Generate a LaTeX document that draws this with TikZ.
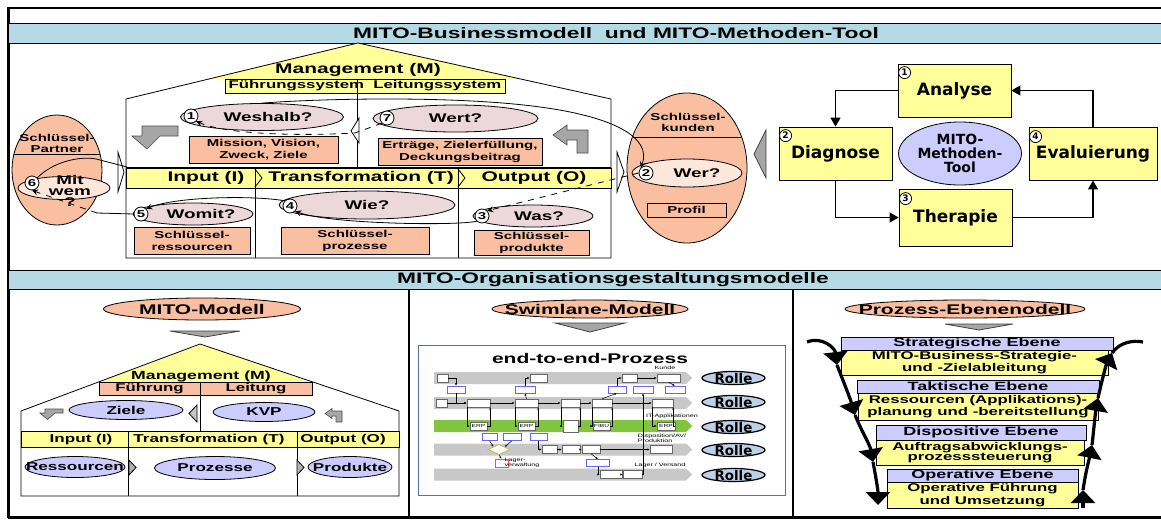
\documentclass[tikz,border=0pt]{standalone}
\usepackage{fontspec}
\setmainfont{Liberation Sans}[FakeStretch=1.5]
\newfontfamily\cyclefont{DejaVu Sans}
\usetikzlibrary{arrows.meta,shapes.geometric}
\definecolor{barblue}{RGB}{180,218,230}
\definecolor{lightyel}{RGB}{255,255,153}
\definecolor{salmon}{RGB}{250,191,160}
\definecolor{rosy}{RGB}{236,216,218}
\definecolor{peach}{RGB}{252,232,218}
\definecolor{lavender}{RGB}{204,204,255}
\definecolor{rolleblue}{RGB}{190,208,230}
\definecolor{lanegray}{RGB}{200,200,200}
\definecolor{lanegreen}{RGB}{128,196,64}
\definecolor{shotblue}{RGB}{84,114,164}
\newcommand\fsz[2]{\fontsize{#1}{#2}\selectfont\bfseries}

\tikzset{
  titlebar/.style={draw, fill=barblue, anchor=north west, inner sep=0pt},
  titletext/.style={font=\fsz{7.6}{9}},
  yelbar/.style={draw, fill=lightyel, inner sep=0pt},
  salbox/.style={draw, fill=salmon, align=center, inner sep=0pt, font=\fsz{5}{6}},
  qell/.style={draw, ellipse, fill=rosy, inner sep=0pt},
  qlbl/.style={font=\fsz{6.3}{5.6}, align=center},
  numc/.style={draw, circle, fill=white, inner sep=0pt, minimum size=7pt, font=\fsz{5}{5}},
  iotext/.style={font=\fsz{7}{8}},
  grayarrow/.style={draw=black!70, fill=gray!70, line width=0.3pt},
  cbox/.style={draw, fill=lightyel, inner sep=0pt, minimum width=56.5pt, minimum height=26.5pt, font=\cyclefont\bfseries\fontsize{8.5}{10}\selectfont},
  cnum/.style={draw, circle, fill=white, inner sep=0pt, minimum size=6pt, font=\cyclefont\bfseries\fontsize{4.5}{5}\selectfont},
  carrow/.style={-{Triangle[width=5pt,length=4.5pt]}, line width=0.6pt},
  seqarrow/.style={-{Stealth[width=3pt,length=3pt]}, line width=0.4pt},
  modell/.style={draw, ellipse, fill=salmon, inner sep=0pt, minimum height=9pt},
  mlbl/.style={font=\fsz{7}{8}},
  lavell/.style={draw, ellipse, fill=lavender, inner sep=0pt, minimum height=10.5pt},
  llbl/.style={font=\fsz{5.7}{6}},
  wedge/.style={draw=gray!50!black, fill=gray!70},
  swbox/.style={draw=black!60, fill=white, line width=0.2pt, inner sep=0pt, minimum height=4pt, font=\fontsize{2.2}{2.4}\selectfont},
  swdoc/.style={swbox, draw=blue!60, minimum height=3.5pt},
  swline/.style={line width=0.25pt, -{Latex[length=1.2pt,width=1pt]}},
  swlbl/.style={font=\fontsize{2.4}{2.6}\selectfont, align=left},
  rolle/.style={draw, ellipse, fill=rolleblue, inner sep=0pt, minimum width=31.5pt, minimum height=6.5pt, line width=0.6pt},
  rlbl/.style={font=\cyclefont\bfseries\fontsize{6.7}{7}\selectfont},
  levelhead/.style={draw, fill=lavender, inner sep=0pt, minimum height=6.5pt, font=\fsz{6}{6}},
  levelbody/.style={draw, fill=lightyel, inner sep=0pt, align=center, font=\fsz{5.6}{5.2}},
  bigarr/.style={line width=1.6pt, -{Triangle[width=12pt,length=6.5pt]}}
}

\begin{document}
\begin{tikzpicture}[x=0.5pt, y=-0.5pt]
\useasboundingbox (0,0) rectangle (1161,520);

% frame
\draw[line width=1pt] (8,7.5) -- (1161,7.5);
\draw[line width=1.5pt] (8.5,7) -- (8.5,518);
\draw[line width=1.2pt] (8,517.5) -- (1161,517.5);

% title bars
\node[titlebar, minimum width=576.5pt, minimum height=10pt] (bar1) at (8,23) {};
\node[titletext] (title1) at (616,33) {MITO-Businessmodell\ \ und MITO-Methoden-Tool};
\node[titlebar, minimum width=576.5pt, minimum height=9.5pt] (bar2) at (8,270) {};
\node[titletext] (title2) at (613,280) {MITO-Organisationsgestaltungsmodelle};
\draw[line width=0.6pt] (409,289) -- (409,517);
\draw[line width=0.6pt] (793,289) -- (793,517);

% house: roof and walls
\fill[lightyel] (358,43) -- (208,79) -- (521,79) -- cycle;
\draw (126,258) -- (126,99) -- (358,43) -- (611,99) -- (611,258) -- cycle;
\node[iotext] (mgmt) at (358,70) {Management (M)};
\node[yelbar, minimum width=140pt, minimum height=7pt, font=\fsz{5.6}{6}] (fsys) at (365,86) {Führungssystem\ \ Leitungssystem};
\draw (357,79) -- (357,167);

% management row
\node[qell, minimum width=81.5pt, minimum height=13.5pt, label={[qlbl]center:\hspace*{6pt}Weshalb?}] (w1) at (262,117) {};
\node[numc] (c1) at (191,116) {1};
\node[qell, minimum width=82.5pt, minimum height=13.5pt, label={[qlbl]center:Wert?}] (w7) at (455.5,118.5) {};
\node[numc] (c7) at (387,118) {7};
\node[salbox, minimum width=74.5pt, minimum height=13.5pt] (mis) at (263.5,149.5) {Mission, Vision,\\Zweck, Ziele};
\node[salbox, minimum width=82pt, minimum height=13.5pt] (ert) at (460,151.5) {Erträge, Zielerfüllung,\\Deckungsbeitrag};
\draw[grayarrow] (178,126) -- (142,126) -- (142,136) -- (132,136) -- (147,149) -- (160,136) -- (178,136) -- cycle;
\draw[grayarrow] (553,135) -- (567,125) -- (567,130) -- (588,130) -- (588,153) -- (577,153) -- (577,140) -- (567,140) -- (567,145) -- cycle;
\draw[fill=white] (359,118) -- (351,131) -- (359,143) -- cycle;

% input / transformation / output
\draw (126,167) -- (611,167);
\node[yelbar, anchor=north west, minimum width=242.5pt, minimum height=10pt] (iobar) at (126,168) {};
\draw (255,168) -- (255,258);
\draw (458,168) -- (458,258);
\draw (255,169) -- (262,178) -- (255,187);
\draw (458,169) -- (465,178) -- (458,187);
\node[iotext] (inp) at (206,178) {Input (I)};
\node[iotext] (trf) at (361,178) {Transformation (T)};
\node[iotext] (outp) at (534,178) {Output (O)};

\node[qell, minimum width=60pt, minimum height=11pt, label={[qlbl]center:\hspace*{8pt}Womit?}] (w5) at (193,214) {};
\node[numc] (c5) at (141,214) {5};
\node[qell, minimum width=88pt, minimum height=14pt, label={[qlbl]center:Wie?}] (w4) at (367,205) {};
\node[numc] (c4) at (290,206) {4};
\node[qell, minimum width=60pt, minimum height=11pt, label={[qlbl]center:\hspace*{6pt}Was?}] (w3) at (533,216) {};
\node[numc] (c3) at (482,216) {3};
\node[salbox, minimum width=58pt, minimum height=13.5pt] (res) at (192,240.5) {Schlüssel-\\ressourcen};
\node[salbox, minimum width=74pt, minimum height=13.5pt] (pro) at (355,240.5) {Schlüssel-\\prozesse};
\node[salbox, minimum width=57.5pt, minimum height=12.5pt] (prd) at (531.5,242.5) {Schlüssel-\\produkte};

% key partners
\node[draw, ellipse, fill=salmon, minimum width=45pt, minimum height=55pt, inner sep=0pt] (kp) at (57,170) {};
\draw (14,154) -- (100,154);
\node[font=\fsz{5}{5.5}, align=center] (kpt) at (57,143.5) {Schlüssel-\\Partner};
\node[qell, fill=peach, minimum width=46pt, minimum height=11.5pt] (m6) at (64,188) {};
\node[qlbl] (m6t) at (70,191) {Mit\\wem\\?};
\node[numc] (c6) at (32,183) {6};
\draw[fill=white] (118,152) -- (124,172) -- (118,192) -- cycle;

% key customers
\node[draw, ellipse, fill=salmon, minimum width=60pt, minimum height=75pt, inner sep=0pt] (kk) at (687,168) {};
\draw (633,137) -- (741,137);
\node[font=\fsz{5}{5.5}, align=center] (kkt) at (688,122.5) {Schlüssel-\\kunden};
\node[qell, fill=peach, minimum width=55pt, minimum height=14pt, label={[qlbl]center:\hspace*{10pt}Wer?}] (m2) at (687,173) {};
\node[numc] (c2) at (646,173) {2};
\node[salbox, minimum width=39.5pt, minimum height=7pt] (prof) at (686.5,210) {Profil};
\draw[fill=white] (617,152) -- (624,172) -- (617,192) -- cycle;

% sequence 1 to 7
\draw[seqarrow] (w1.north) .. controls (330,98) and (460,96) .. (540,107) .. controls (615,117) and (652,138) .. (c2.north west);
\draw[seqarrow, dashed] (c2.west) -- (c3.north east);
\draw[seqarrow] (c3.south west) .. controls (455,226) and (330,224) .. (c4.south east);
\draw[seqarrow] (c4.north west) .. controls (250,195) and (175,197) .. (c5.north east);
\coordinate (p56) at (97,213);
\draw (c5.west) -- (p56);
\draw[seqarrow, dashed] (p56) -- (c6.south);
\coordinate (p67) at (127,167);
\draw (c6.north east) .. controls (55,160) and (85,155) .. (100,160) -- (p67);
\coordinate (pmid) at (355,133);
\draw[seqarrow, dashed] (c7.south west) .. controls (368,128) .. (pmid) .. controls (280,137) and (220,132) .. (c1.south east);

% methoden-tool cycle
\draw[wedge] (754,154) -- (766,130) -- (766,178) -- cycle;
\node[cbox] (ana) at (954.5,90.5) {Analyse};
\node[cbox] (dia) at (835.5,153.5) {Diagnose};
\node[cbox, minimum height=28.5pt] (the) at (955.5,217.5) {Therapie};
\node[cbox, minimum width=64pt] (eva) at (1093,153.5) {Evaluierung};
\node[draw, ellipse, fill=lavender, inner sep=0pt, minimum width=61.5pt, minimum height=31.5pt, align=center, font=\cyclefont\bfseries\fontsize{7}{7}\selectfont] (tool) at (960,153.5) {MITO-\\Methoden-\\Tool};
\node[cnum] (n1) at ([shift={(7,9)}]ana.north west) {1};
\node[cnum] (n2) at ([shift={(7,9)}]dia.north west) {2};
\node[cnum] (n3) at ([shift={(7,10)}]the.north west) {3};
\node[cnum] (n4) at ([shift={(7,10)}]eva.north west) {4};
\draw[carrow] (ana.west) -| (dia.north);
\draw[carrow] (dia.south) |- (the.west);
\draw[carrow] (the.east) -| (eva.south);
\draw[carrow] (eva.north) |- (ana.east);

% mito-modell
\node[modell, minimum width=98.5pt, minimum height=11pt, label={[mlbl]center:MITO-Modell}] (mm) at (202,309) {};
\draw[wedge] (170,331) -- (240,331) -- (205,337) -- cycle;
\fill[lightyel] (200,344) -- (98,382) -- (313,382) -- cycle;
\draw (21,496) -- (21,411) -- (200,344) -- (399,411) -- (399,496) -- cycle;
\node[font=\fsz{5.9}{6}] (mgmt2) at (201,376) {Management (M)};
\node[salbox, minimum width=50.5pt, minimum height=6.5pt, font=\fsz{5.6}{6}] (fu2) at (149.5,388.5) {Führung};
\node[salbox, minimum width=56pt, minimum height=6.5pt, font=\fsz{5.6}{6}] (le2) at (256,388.5) {Leitung};
\draw (200,395) -- (200,431);
\node[lavell, minimum width=57pt, minimum height=9.5pt, label={[llbl]center:Ziele}] (zl) at (126,410) {};
\node[lavell, minimum width=51pt, minimum height=9.5pt, label={[llbl]center:KVP}] (kvp) at (264,412) {};
\draw[grayarrow] (63,409) -- (45,409) -- (45,413) -- (40,413) -- (47.5,419.5) -- (55,413) -- (63,413) -- cycle;
\draw[grayarrow] (325,413.5) -- (332,408.5) -- (332,411) -- (342,411) -- (342,422) -- (336,422) -- (336,416) -- (332,416) -- (332,418.5) -- cycle;
\draw[fill=gray!45] (197,405) -- (189,413.5) -- (197,422) -- cycle;
\node[yelbar, anchor=north west, minimum width=189pt, minimum height=8pt] (iobar2) at (21,431) {};
\draw (128,431) -- (128,496);
\draw (297,431) -- (297,496);
\node[llbl] (inp2) at (81,440) {Input (I)};
\node[llbl] (trf2) at (209,440) {Transformation (T)};
\node[llbl] (outp2) at (343,440) {Output (O)};
\node[lavell, minimum width=50pt, label={[llbl]center:Ressourcen}] (res2) at (75,467) {};
\node[lavell, minimum width=60.5pt, minimum height=11.5pt, label={[llbl]center:Prozesse}] (proz2) at (215,468) {};
\node[lavell, minimum width=42pt, label={[llbl]center:Produkte}] (prod2) at (350,467) {};
\draw[fill=gray!60] (129,460) -- (136,467.5) -- (129,475) -- cycle;
\draw[fill=gray!60] (297,460) -- (304,467.5) -- (297,475) -- cycle;

% swimlane-modell
\node[modell, minimum width=98pt, label={[mlbl]center:Swimlane-Modell}] (sm) at (590,309) {};
\draw[wedge] (555,323) -- (625,323) -- (590,332) -- cycle;
\node[draw=shotblue, line width=0.6pt, anchor=north west, minimum width=183.5pt, minimum height=75pt] (shot) at (418,345) {};
\node[font=\fsz{7}{8}] (e2e) at (590,358) {end-to-end-Prozess};
\foreach \y/\c in {378/lanegray, 403/lanegray, 426/lanegreen, 449.5/lanegray, 474.5/lanegray}
  \fill[\c] (434,\y-6) -- (686,\y-6) -- (692,\y) -- (686,\y+6) -- (434,\y+6) -- cycle;
% lane boxes
\node[swbox, minimum width=5.5pt] (k1) at (442.5,378) {};
\node[swbox, minimum width=8.5pt] (k2) at (538.5,378) {};
\node[swbox, minimum width=7.5pt] (k3) at (629.5,378) {};
\node[swbox, minimum width=11.5pt] (k4) at (668.5,378) {};
\node[swdoc, minimum width=9pt] (d1) at (456,389.5) {};
\node[swdoc, minimum width=10pt] (d2) at (525,389.5) {};
\node[swdoc, minimum width=9pt] (d3) at (617,389.5) {};
\node[swdoc, minimum width=10pt] (d4) at (643,389.5) {};
\node[swdoc, minimum width=10pt] (d5) at (675,389.5) {};
\node[swbox, minimum width=5.5pt] (a1) at (441.5,403) {};
\node[swbox, minimum width=11.5pt] (a2) at (478.5,403) {};
\node[swbox, minimum width=11.5pt] (a3) at (526.5,403) {};
\node[swbox, minimum width=9.5pt] (a4) at (570.5,403) {};
\node[swbox, minimum width=10pt] (a5) at (602,403) {};
\node[swbox, minimum width=10.5pt] (a6) at (662.5,403) {};
\node[swbox, minimum width=8.5pt] (e1) at (478.5,426) {ERP};
\node[swbox, minimum width=8.5pt] (e2) at (526.5,426) {ERP};
\node[swbox, minimum width=7.5pt, minimum height=6pt] (e3) at (570.5,426) {};
\node[swbox, minimum width=8.5pt] (e4) at (601.5,426) {FIBU};
\node[swbox, minimum width=9pt] (e5) at (666,426) {ERP};
\node[swdoc, minimum width=7.5pt] (d6) at (489.5,437) {};
\node[swdoc, minimum width=9pt] (d7) at (512,437) {};
\node[swdoc, minimum width=8.5pt] (d8) at (538.5,437) {};
\node[draw=yellow!70!black, fill=white, diamond, inner sep=0pt, minimum width=11pt, minimum height=5pt, line width=0.3pt] (q1) at (499,449.5) {};
\node[swbox, minimum width=7.5pt] (b1) at (549.5,449.5) {};
\node[swbox, minimum width=9pt] (b2) at (571,449.5) {};
\node[swbox, minimum width=9pt] (b3) at (591,449.5) {};
\node[swbox, minimum width=11pt] (b4) at (661,449.5) {};
\node[swbox, draw=red!70, minimum width=6.5pt] (r1) at (501.5,463) {};
\node[swdoc, minimum width=11.5pt] (d9) at (598,463) {};
\node[swbox, minimum width=11pt] (f1) at (611,474.5) {};
\node[swbox, minimum width=9.5pt] (f2) at (632.5,474.5) {};
% lane connectors
\draw[swline] (k1.east) -| (d1.north);
\draw[swline] (d1.south) |- (a2.west);
\draw[swline] (a1.east) -- (a2.west);
\draw[swline] (a2.east) -- (a3.west);
\draw[swline] (a3.east) -- (a4.west);
\draw[swline] (a4.east) -- (a5.west);
\draw[swline] (a5.east) -- (a6.west);
\foreach \u/\v in {a2/e1, a3/e2, a4/e3, a5/e4, a6/e5} {
  \draw[swline] (\u.south west) |- (\v.west);
  \draw[swline] (\v.east) -| (\u.south east);
}
\draw[swline] (a3.north) -- (d2.south);
\draw[swline] (d2.north) |- (k2.west);
\draw[swline] (a5.north) -- (d3.south);
\draw[swline] (d3.north) |- (k3.west);
\draw[swline] (k3.east) -- (k4.west);
\draw[swline] (k4.south) -- (d5.north);
\draw[swline] (f2.east) -| (d4.south);
\draw[swline] (d6.south) -- (q1.north west);
\draw[swline] (d7.south) -- (q1.north east);
\draw[swline] (d8.south) |- (b1.west);
\draw[swline] (q1.south) -- (r1.north);
\draw[swline] (b1.east) -- (b2.west);
\draw[swline] (b2.east) -- (b3.west);
\draw[swline] (b3.east) -- (b4.west);
\draw[swline] (b3.south) -- (d9.north);
\draw[swline] (d9.south) |- (f1.west);
\draw[swline] (f1.east) -- (f2.west);
% lane labels
\node[swlbl] (lk) at (665,368) {Kunde};
\node[swlbl] (lit) at (672,416) {IT-Applikationen};
\node[swlbl] (ldis) at (662,438) {Disposition/AV/\\Produktion};
\node[swlbl] (llag) at (660,465) {Lager / Versand};
\node[swlbl] (llv) at (522,463) {Lager-\\verwaltung};
% roles
\foreach \y [count=\i] in {378,402,427,450,475}
  \node[rolle, label={[rlbl]center:Rolle}] (rl\i) at (733.5,\y) {};

% prozess-ebenenmodell
\node[modell, minimum width=120pt, label={[mlbl]center:Prozess-Ebenenodell}] (pe) at (965,309) {};
\draw[wedge] (945,324) -- (1013,324) -- (979,330) -- cycle;
\node[levelhead, minimum width=136pt] (h1) at (977,343.5) {Strategische Ebene};
\node[levelbody, minimum width=133.5pt, minimum height=12.5pt] (l1) at (974.5,362.5) {MITO-Business-Strategie-\\und -Zielableitung};
\node[levelhead, minimum width=121pt] (h2) at (978,386.5) {Taktische Ebene};
\node[levelbody, minimum width=120pt, minimum height=13.5pt] (l2) at (978,406.5) {Ressourcen (Applikations)-\\planung und -bereitstellung};
\node[levelhead, minimum width=105pt, minimum height=7.5pt] (h3) at (981,432.5) {Dispositive Ebene};
\node[levelbody, minimum width=104pt, minimum height=12.5pt] (l3) at (980,452.5) {Auftragsabwicklungs-\\prozesssteuerung};
\node[levelhead, minimum width=95.5pt] (h4) at (982.5,475.5) {Operative Ebene};
\node[levelbody, minimum width=95.5pt, minimum height=13pt] (l4) at (982.5,495) {Operative Führung\\und Umsetzung};
% top-down arrows
\coordinate (la0) at (807,342);
\coordinate (la1) at (837,365);
\coordinate (la2) at (855,415);
\coordinate (la3) at (873,462);
\coordinate (la4) at (878,505);
\draw[bigarr] (la0) .. controls (822,336) and (835,348) .. (la1);
\draw[bigarr] (la1) .. controls (844,383) and (850,398) .. (la2);
\draw[bigarr] (la2) .. controls (862,432) and (870,445) .. (la3);
\draw[bigarr] (la3) .. controls (876,478) and (878,490) .. (la4);
% bottom-up arrows
\coordinate (ra0) at (1143,342);
\coordinate (ra1) at (1112,353);
\coordinate (ra2) at (1098,398);
\coordinate (ra3) at (1092,445);
\coordinate (ra4) at (1083,490);
\coordinate (ra5) at (1083,508);
\draw[bigarr] (ra5) -- (ra4);
\draw[bigarr] (ra4) .. controls (1086,470) and (1089,460) .. (ra3);
\draw[bigarr] (ra3) .. controls (1094,428) and (1095,415) .. (ra2);
\draw[bigarr] (ra2) .. controls (1102,380) and (1106,365) .. (ra1);
\draw[line width=1.6pt] (ra1) .. controls (1120,342) and (1133,340) .. (ra0);

\end{tikzpicture}
\end{document}
